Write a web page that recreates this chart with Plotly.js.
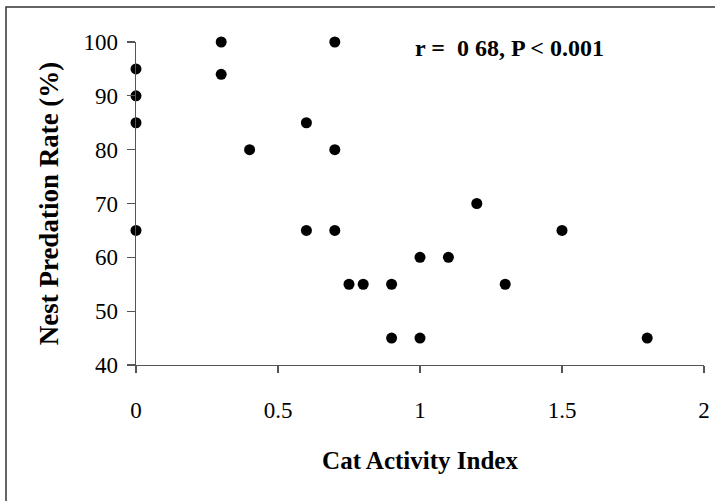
<!DOCTYPE html>
<html>
<head>
<meta charset="utf-8">
<script src="https://cdn.plot.ly/plotly-3.0.1.min.js"></script>
<style>html,body{margin:0;padding:0;background:#fff;}#chart{width:715px;height:501px;}</style>
</head>
<body>
<div id="chart"></div>
<script>
var catActivity = [0, 0, 0, 0, 0.3, 0.3, 0.4, 0.6, 0.6, 0.7, 0.7, 0.7, 0.75, 0.8, 0.9, 0.9, 1.0, 1.0, 1.1, 1.2, 1.3, 1.5, 1.8];
var predationRate = [95, 90, 85, 65, 100, 94, 80, 85, 65, 100, 80, 65, 55, 55, 55, 45, 60, 45, 60, 70, 55, 65, 45];
var xTicks = [0, 0.5, 1, 1.5, 2];
var yTicks = [40, 50, 60, 70, 80, 90, 100];
var statText = 'r =  0 68, P < 0.001';

var serif = 'Liberation Serif, Times New Roman, serif';
var trace = {
  x: catActivity, y: predationRate, type: 'scatter', mode: 'markers',
  marker: {color: '#000', size: 11}, cliponaxis: false, showlegend: false
};
var layout = {
  width: 715, height: 501,
  margin: {l: 136, r: 11, t: 42, b: 136},
  paper_bgcolor: '#fff', plot_bgcolor: '#fff',
  font: {family: serif, color: '#000', size: 20},
  xaxis: {
    range: [0, 2], tickvals: xTicks, ticktext: xTicks.map(String),
    showgrid: false, zeroline: false, showline: true, linecolor: '#555', linewidth: 1.3,
    ticks: 'outside', ticklen: 7, tickcolor: '#555', tickwidth: 1.3,
    ticklabelstandoff: 17,
    tickfont: {family: serif, size: 23, color: '#000'},
    title: {text: '<b>Cat Activity Index</b>', font: {family: serif, size: 25, color: '#000'}, standoff: 29}
  },
  yaxis: {
    range: [40, 100], tickvals: yTicks, ticktext: yTicks.map(String),
    showgrid: false, zeroline: false, showline: true, linecolor: '#555', linewidth: 1.3,
    ticks: 'outside', ticklen: 8, tickcolor: '#555', tickwidth: 1.3,
    ticklabelstandoff: 4,
    tickfont: {family: serif, size: 23, color: '#000'},
    title: {text: '<b>Nest Predation Rate (%)</b>', font: {family: serif, size: 27, color: '#000'}, standoff: 17}
  },
  annotations: [{
    text: '<b>' + statText + '</b>', xref: 'paper', yref: 'paper',
    x: 0.658, y: 0.98, xanchor: 'center', yanchor: 'middle', showarrow: false,
    font: {family: serif, size: 24, color: '#000'}
  }],
  shapes: [{
    type: 'rect', xref: 'paper', yref: 'paper',
    x0: (6 - 136) / 568, x1: 1.5, y0: -1, y1: (365 - 7) / 323,
    line: {color: '#333', width: 1.5}, fillcolor: 'rgba(0,0,0,0)', layer: 'below'
  }]
};
Plotly.newPlot('chart', [trace], layout, {displayModeBar: false, staticPlot: true});
</script>
</body>
</html>
